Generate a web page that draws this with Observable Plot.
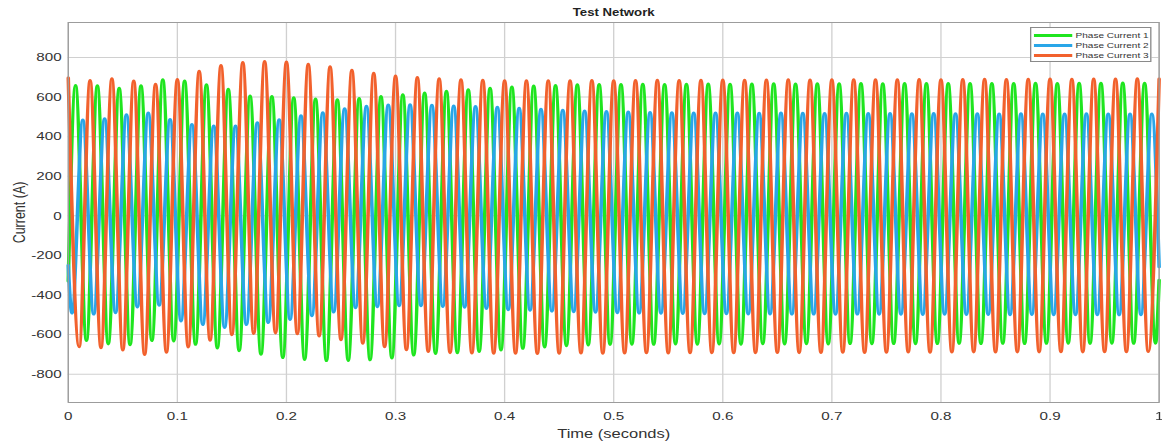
<!DOCTYPE html>
<html>
<head>
<meta charset="utf-8">
<script src="https://cdn.jsdelivr.net/npm/d3@7"></script>
<script src="https://cdn.jsdelivr.net/npm/@observablehq/plot@0.6"></script>
<style>
  html, body { margin: 0; padding: 0; background: #fff; overflow: hidden; }
  #wrap { position: relative; width: 880px; height: 441px; transform: scaleX(1.3205); transform-origin: 0 0; }
  #wrap svg { display: block; }
  g[aria-label="x-axis label"] text, g[aria-label="y-axis label"] text { font-size: 12.5px; }
  #legend { position: absolute; left: 780px; top: 27px; width: 92px; height: 35px; border: 1px solid #8a8a8a; background: #fff;
            font-family: 'Liberation Sans', Arial, sans-serif; font-size: 7.6px; color: #333; box-sizing: border-box; padding-top: 2.5px; }
  #legend .row { display: flex; align-items: center; height: 10px; }
  #legend .sw { width: 29.5px; height: 2.4px; margin-left: 1.5px; margin-right: 2.5px; }
</style>
</head>
<body>
<div id="wrap"></div>
<script>
// ---- series ----
const seriesNames = ["Phase Current 1", "Phase Current 2", "Phase Current 3"];
const seriesColors = ["#1fe51f", "#29a6e8", "#f2612d"];

// ---- axis ticks ----
const xTicks = [0, 0.1, 0.2, 0.3, 0.4, 0.5, 0.6, 0.7, 0.8, 0.9, 1];
const xTickLabels = ["0", "0.1", "0.2", "0.3", "0.4", "0.5", "0.6", "0.7", "0.8", "0.9", "1"];
const yTicks = [-800, -600, -400, -200, 0, 200, 400, 600, 800];
const yTickLabels = ["-800", "-600", "-400", "-200", "0", "200", "400", "600", "800"];

// ---- 50 Hz waveform: one extremum every half cycle ----
const cycle = 0.02;           // seconds per cycle
// Phase Current 1 (green): first peak at 0.00667 s, first trough at 0.01667 s
const p1Start = -330, p1End = -325;
const p1PeakT0 = 0.00667, p1TroughT0 = 0.01667;
const p1Peaks = [660, 658, 645, 658, 689, 682, 663, 640, 606, 604, 597, 591, 587, 594, 604, 613, 622, 631, 638, 646,
                 652, 657, 660, 663, 664, 665, 666, 665, 666, 667, 666, 667, 668, 667, 668, 668, 669, 668, 669, 669,
                 670, 669, 670, 670, 671, 670, 671, 671, 672, 671];
const p1Troughs = [-631, -648, -652, -631, -633, -650, -668, -682, -700, -717, -726, -732, -731, -728, -719, -704, -696, -692, -686, -678,
                   -670, -663, -657, -653, -650, -649, -650, -648, -649, -648, -649, -647, -648, -647, -648, -646, -647, -646, -647, -646,
                   -645, -646, -645, -646, -645, -644, -645, -644, -645, -644];
// Phase Current 2 (blue): first trough at 0.00333 s, first peak at 0.01333 s
const p2Start = -250, p2End = -258;
const p2PeakT0 = 0.01333, p2TroughT0 = 0.00333;
const p2Peaks = [485, 492, 512, 520, 488, 463, 455, 455, 471, 486, 506, 522, 542, 554, 561, 562, 560, 556, 553, 550,
                 544, 539, 535, 531, 528, 525, 523, 522, 521, 520, 520, 519, 520, 519, 518, 519, 518, 518, 517, 518,
                 517, 517, 516, 517, 516, 516, 517, 516, 516, 515];
const p2Troughs = [-492, -497, -490, -461, -452, -532, -550, -565, -550, -540, -524, -505, -487, -465, -460, -455, -455, -459, -462, -469,
                   -475, -478, -482, -485, -488, -490, -492, -493, -494, -495, -495, -496, -496, -497, -497, -498, -497, -498, -498, -499,
                   -498, -499, -499, -500, -499, -500, -500, -500, -501, -500];
// Phase Current 3 (orange): peaks at 0, 0.02, ... 1.00 s, troughs at 0.01, 0.03, ... 0.99 s
const p3PeakT0 = 0, p3TroughT0 = 0.01;
const p3Peaks = [697, 685, 693, 682, 666, 690, 731, 761, 776, 781, 778, 767, 754, 736, 721, 708, 700, 694, 689, 686,
                 684, 683, 684, 683, 685, 684, 685, 686, 685, 686, 687, 686, 687, 688, 687, 688, 689, 688, 689, 690,
                 689, 690, 691, 690, 691, 692, 691, 692, 692, 693, 692];
const p3Troughs = [-662, -667, -679, -701, -690, -663, -629, -601, -595, -592, -596, -608, -627, -645, -662, -677, -686, -692, -694, -695,
                   -695, -696, -695, -694, -695, -694, -693, -694, -693, -692, -693, -692, -691, -692, -691, -690, -691, -690, -689, -690,
                   -689, -688, -689, -688, -688, -687, -688, -687, -687, -686];

// ---- build the table the library needs ----
function buildSeries(name, peaks, peakT0, troughs, troughT0, startVal, endVal) {
  const pts = [];
  if (startVal !== undefined) pts.push({ series: name, t: 0, v: startVal });
  peaks.forEach((v, k) => pts.push({ series: name, t: peakT0 + k * cycle, v }));
  troughs.forEach((v, k) => pts.push({ series: name, t: troughT0 + k * cycle, v }));
  if (endVal !== undefined) pts.push({ series: name, t: 1, v: endVal });
  return pts.sort((a, b) => a.t - b.t);
}
const rows = [
  ...buildSeries(seriesNames[0], p1Peaks, p1PeakT0, p1Troughs, p1TroughT0, p1Start, p1End),
  ...buildSeries(seriesNames[1], p2Peaks, p2PeakT0, p2Troughs, p2TroughT0, p2Start, p2End),
  ...buildSeries(seriesNames[2], p3Peaks, p3PeakT0, p3Troughs, p3TroughT0)
];

const chart = Plot.plot({
  width: 880,
  height: 441,
  marginLeft: 51.2,
  marginRight: 2.7,
  marginTop: 22,
  marginBottom: 39,
  style: { fontFamily: "'Liberation Sans', Arial, sans-serif", fontSize: "11.5px", color: "#333", background: "#fff", overflow: "visible" },
  x: { domain: [0, 1] },
  y: { domain: [-943, 977] },
  color: { domain: seriesNames, range: seriesColors },
  marks: [
    Plot.gridX(xTicks, { stroke: "#d0d0d0", strokeOpacity: 1 }),
    Plot.gridY(yTicks, { stroke: "#d0d0d0", strokeOpacity: 1 }),
    Plot.line(rows, { x: "t", y: "v", z: "series", stroke: "series", strokeWidth: 2.7, curve: "monotone-x" }),
    Plot.frame({ stroke: "#9c9c9c" }),
    Plot.axisX(xTicks, { tickSize: 0, tickPadding: 9, tickFormat: (d, i) => xTickLabels[i],
      label: "Time (seconds)", labelAnchor: "center", labelArrow: "none", labelOffset: 35 }),
    Plot.axisY(yTicks, { tickSize: 0, tickPadding: 5, tickFormat: (d, i) => yTickLabels[i],
      label: "Current (A)", labelAnchor: "center", labelArrow: "none", labelOffset: 42 }),
    Plot.text(["Test Network"], { frameAnchor: "top", dy: -14, fontWeight: "bold", fontSize: 10, fill: "#222" })
  ]
});

const wrap = document.getElementById("wrap");
wrap.appendChild(chart);

// legend
const legend = document.createElement("div");
legend.id = "legend";
seriesNames.forEach((name, i) => {
  const row = document.createElement("div");
  row.className = "row";
  const sw = document.createElement("span");
  sw.className = "sw";
  sw.style.background = seriesColors[i];
  const label = document.createElement("span");
  label.textContent = name;
  row.appendChild(sw);
  row.appendChild(label);
  legend.appendChild(row);
});
wrap.appendChild(legend);
</script>
</body>
</html>
